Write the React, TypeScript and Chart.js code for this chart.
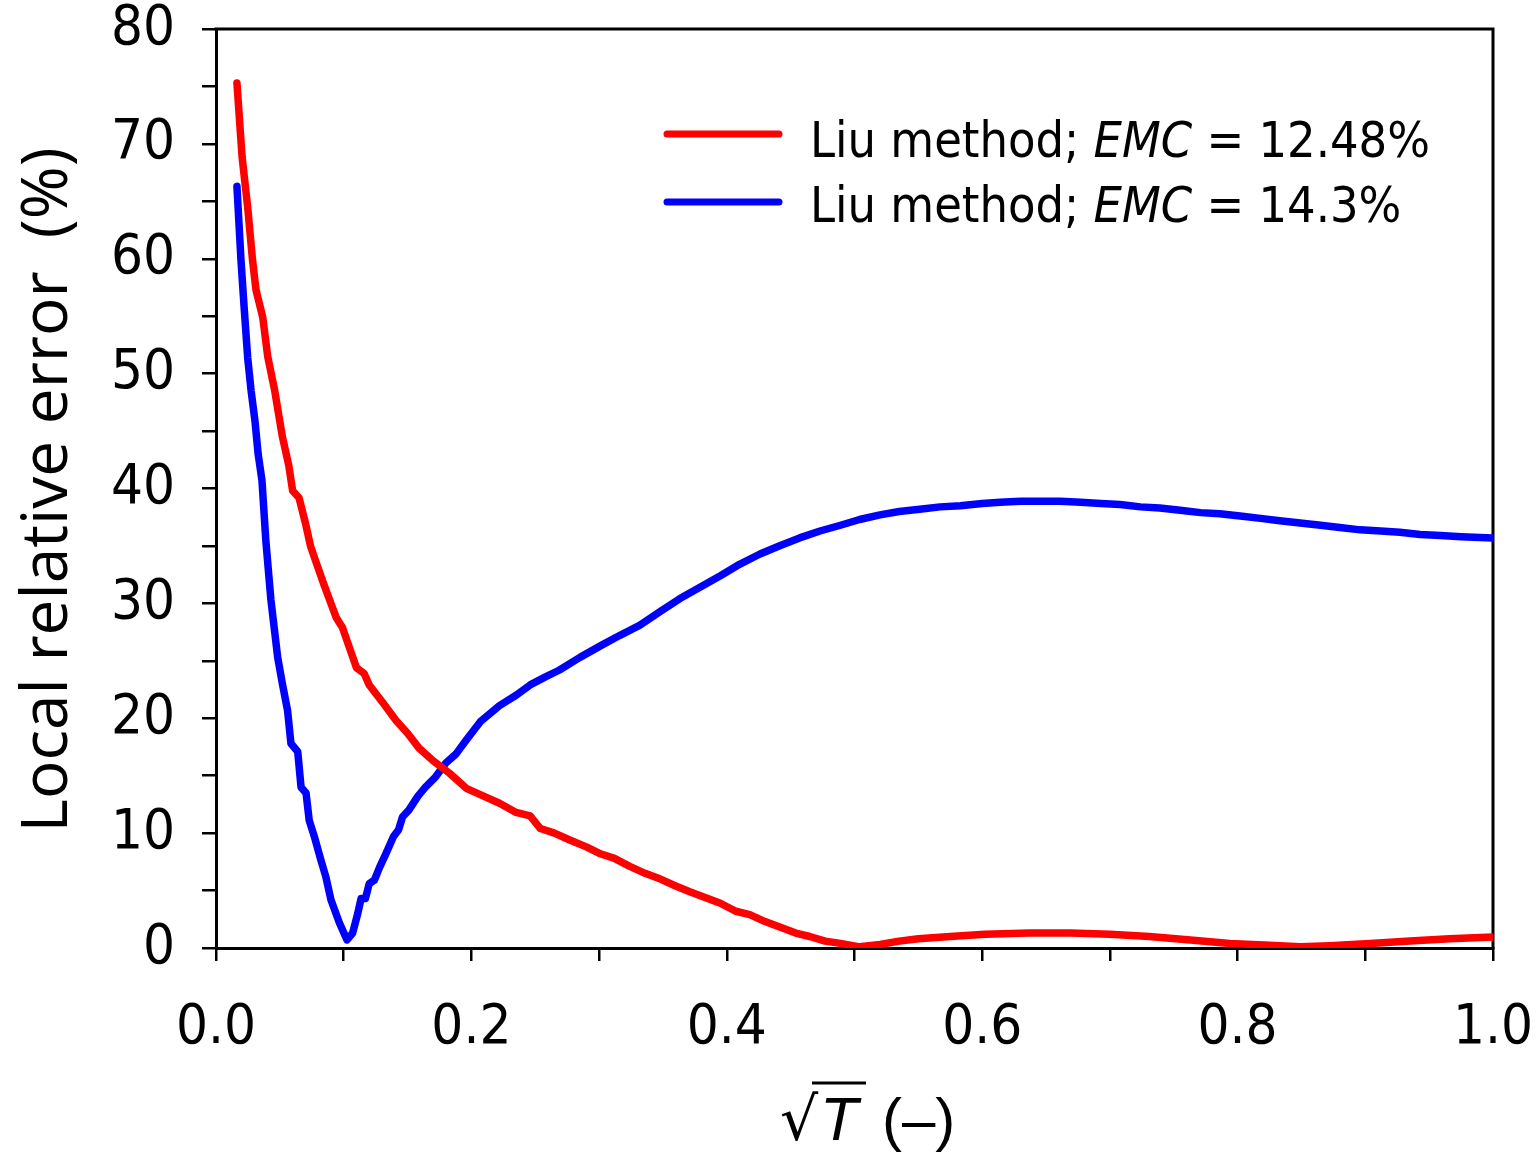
import React, { useEffect, useRef } from "react";
import { Chart, registerables } from "chart.js";

Chart.register(...registerables);

// ---- data ----
const redX = [
  0.0164, 0.0204, 0.0248, 0.0285, 0.0313, 0.0366, 0.0405, 0.046, 0.052, 0.057,
  0.06, 0.065, 0.07, 0.074, 0.078, 0.084, 0.089, 0.094, 0.099, 0.104,
  0.11, 0.116, 0.12, 0.131, 0.141, 0.15, 0.159, 0.17, 0.183, 0.196,
  0.21, 0.222, 0.235, 0.246, 0.254, 0.265, 0.277, 0.29, 0.301, 0.312,
  0.324, 0.336, 0.348, 0.36, 0.371, 0.383, 0.395, 0.407, 0.418, 0.43,
  0.442, 0.454, 0.465, 0.477, 0.489, 0.504, 0.52, 0.535, 0.55, 0.575,
  0.602, 0.637, 0.669, 0.7, 0.731, 0.763, 0.794, 0.825, 0.849, 0.872,
  0.904, 0.935, 0.966, 1.0,
];
const redY = [
  75.3, 68.9, 64.5, 60.0, 57.3, 54.9, 51.5, 48.5, 44.5, 42.0,
  39.8, 39.2, 37.0, 35.0, 33.7, 31.8, 30.3, 28.8, 27.9, 26.3,
  24.4, 23.9, 22.9, 21.3, 19.8, 18.7, 17.4, 16.3, 15.2, 13.9,
  13.2, 12.6, 11.8, 11.5, 10.4, 10.0, 9.4, 8.8, 8.2, 7.8,
  7.1, 6.5, 6.0, 5.4, 4.9, 4.4, 3.9, 3.2, 2.9, 2.3,
  1.8, 1.3, 1.0, 0.6, 0.4, 0.1, 0.3, 0.6, 0.8, 1.0,
  1.2, 1.3, 1.3, 1.2, 1.0, 0.7, 0.4, 0.25, 0.1, 0.2,
  0.4, 0.6, 0.8, 0.95,
];

const blueX = [
  0.0164, 0.0196, 0.0222, 0.0248, 0.0275, 0.0305, 0.033, 0.036, 0.039, 0.043,
  0.0483, 0.052, 0.056, 0.0587, 0.064, 0.0666, 0.0705, 0.073, 0.077, 0.082,
  0.086, 0.09, 0.0966, 0.1026, 0.107, 0.111, 0.1136, 0.117, 0.12, 0.124,
  0.128, 0.133, 0.139, 0.143, 0.146, 0.151, 0.158, 0.164, 0.172, 0.18,
  0.188, 0.196, 0.207, 0.222, 0.235, 0.246, 0.258, 0.269, 0.285, 0.301,
  0.316, 0.332, 0.348, 0.363, 0.379, 0.395, 0.41, 0.426, 0.441, 0.457,
  0.473, 0.489, 0.504, 0.52, 0.535, 0.551, 0.567, 0.583, 0.6, 0.614,
  0.63, 0.645, 0.661, 0.677, 0.693, 0.708, 0.724, 0.739, 0.755, 0.771,
  0.786, 0.802, 0.818, 0.833, 0.849, 0.865, 0.88, 0.896, 0.912, 0.927,
  0.943, 0.959, 0.975, 1.0,
];
const blueY = [
  66.3, 59.8, 55.5, 51.4, 48.5, 45.9, 43.0, 40.7, 35.5, 30.3,
  25.3, 23.0, 20.7, 17.8, 17.1, 14.0, 13.5, 11.1, 9.7, 7.7,
  6.2, 4.2, 2.2, 0.7, 1.3, 3.0, 4.3, 4.3, 5.6, 5.9,
  7.0, 8.2, 9.7, 10.3, 11.4, 12.0, 13.2, 14.0, 14.9, 16.1,
  16.9, 18.1, 19.7, 21.1, 22.0, 22.9, 23.6, 24.2, 25.3, 26.3,
  27.2, 28.1, 29.3, 30.4, 31.4, 32.4, 33.4, 34.3, 35.0, 35.7,
  36.3, 36.8, 37.3, 37.7, 38.0, 38.2, 38.4, 38.5, 38.7, 38.8,
  38.9, 38.9, 38.9, 38.8, 38.7, 38.6, 38.4, 38.3, 38.1, 37.9,
  37.8, 37.6, 37.4, 37.2, 37.0, 36.8, 36.6, 36.4, 36.3, 36.2,
  36.0, 35.9, 35.8, 35.7,
];

const seriesNames = ["Liu method; EMC = 12.48%", "Liu method; EMC = 14.3%"];
const legendPre = ["Liu method; ", "Liu method; "];
const legendItal = ["EMC", "EMC"];
const legendPost = [" = 12.48%", " = 14.3%"];
const seriesColors = ["#ff0000", "#0000ff"];

const xTickLabels = ["0.0", "", "0.2", "", "0.4", "", "0.6", "", "0.8", "", "1.0"];
const yTickLabels = ["0", "", "10", "", "20", "", "30", "", "40", "", "50", "", "60", "", "70", "", "80"];
const yTitle = "Local relative error  (%)";

const TICK_FONT = "'DejaVu Sans Condensed', 'DejaVu Sans', sans-serif";

const overlayPlugin = {
  id: "overlay",
  beforeDatasetsDraw(chart: any) {
    const { ctx, chartArea } = chart;
    ctx.save();
    ctx.strokeStyle = "#000";
    ctx.lineWidth = 3;
    ctx.beginPath();
    ctx.moveTo(chartArea.left - 1.5, chartArea.top);
    ctx.lineTo(chartArea.right, chartArea.top);
    ctx.lineTo(chartArea.right, chartArea.bottom + 1.5);
    ctx.stroke();
    ctx.restore();
  },
  afterDraw(chart: any) {
    const { ctx } = chart;
    ctx.save();
    ctx.fillStyle = "#000";

    // y-axis title
    ctx.save();
    ctx.translate(67, 490);
    ctx.rotate(-Math.PI / 2);
    ctx.font = "64px 'Open Sans', sans-serif";
    ctx.textAlign = "center";
    ctx.textBaseline = "alphabetic";
    ctx.fillText(yTitle, 0, 0);
    ctx.restore();

    // x-axis title: sqrt(T) (–)
    ctx.textBaseline = "alphabetic";
    ctx.textAlign = "left";
    const base = 1140;
    ctx.font = "60px 'DejaVu Sans', sans-serif";
    ctx.fillText("\u221A", 780, base);
    ctx.font = "italic 62px 'Liberation Sans', sans-serif";
    ctx.fillText("T", 820, base);
    ctx.lineWidth = 3;
    ctx.strokeStyle = "#000";
    ctx.beginPath();
    ctx.moveTo(812, 1083);
    ctx.lineTo(866, 1083);
    ctx.stroke();
    ctx.font = "60px 'Liberation Sans', sans-serif";
    ctx.fillText("(\u2013)", 882, base);

    // legend
    const rows = [157, 222];
    const lineY = [134, 202];
    for (let i = 0; i < 2; i++) {
      ctx.strokeStyle = seriesColors[i];
      ctx.lineWidth = 7;
      ctx.lineCap = "round";
      ctx.beginPath();
      ctx.moveTo(667, lineY[i]);
      ctx.lineTo(779, lineY[i]);
      ctx.stroke();
      let x = 810;
      ctx.font = `50px ${TICK_FONT}`;
      ctx.fillText(legendPre[i], x, rows[i]);
      x += ctx.measureText(legendPre[i]).width;
      ctx.font = `italic 50px ${TICK_FONT}`;
      ctx.fillText(legendItal[i], x, rows[i]);
      x += ctx.measureText(legendItal[i]).width;
      ctx.font = `50px ${TICK_FONT}`;
      ctx.fillText(legendPost[i], x, rows[i]);
    }
    ctx.restore();
  },
};

export default function App() {
  const ref = useRef<HTMLCanvasElement>(null);
  useEffect(() => {
    const canvas = ref.current!;
    const chart = new Chart(canvas, {
      type: "line",
      data: {
        datasets: [
          {
            label: seriesNames[0],
            data: redX.map((x, i) => ({ x, y: redY[i] })),
            borderColor: seriesColors[0],
            backgroundColor: seriesColors[0],
            borderWidth: 7.5,
            pointRadius: 0,
            tension: 0,
            borderCapStyle: "round",
            borderJoinStyle: "round",
          },
          {
            label: seriesNames[1],
            data: blueX.map((x, i) => ({ x, y: blueY[i] })),
            borderColor: seriesColors[1],
            backgroundColor: seriesColors[1],
            borderWidth: 7.5,
            pointRadius: 0,
            tension: 0,
            borderCapStyle: "round",
            borderJoinStyle: "round",
          },
        ],
      },
      options: {
        responsive: false,
        animation: false,
        devicePixelRatio: 1,
        layout: { padding: { top: 29, right: 46, left: 0, bottom: 0 } },
        plugins: { legend: { display: false }, tooltip: { enabled: false } },
        scales: {
          x: {
            type: "linear",
            min: 0,
            max: 1,
            afterFit: (s: any) => {
              s.height = 206;
              s.paddingLeft = 0;
              s.paddingRight = 0;
            },
            ticks: {
              stepSize: 0.1,
              autoSkip: false,
              maxRotation: 0,
              padding: 39,
              color: "#000",
              font: { family: TICK_FONT, size: 56, lineHeight: 1 },
              callback: (_v: any, i: number) => xTickLabels[i],
            },
            grid: { display: true, drawOnChartArea: false, drawTicks: true, tickLength: 13, color: "#000", lineWidth: 2.5 },
            border: { display: true, color: "#000", width: 3 },
          },
          y: {
            type: "linear",
            min: 0,
            max: 80,
            afterFit: (s: any) => {
              s.width = 216;
              s.paddingTop = 0;
              s.paddingBottom = 0;
            },
            ticks: {
              stepSize: 5,
              autoSkip: false,
              padding: 27,
              color: "#000",
              font: { family: TICK_FONT, size: 56, lineHeight: 1 },
              callback: (_v: any, i: number) => yTickLabels[i],
            },
            grid: { display: true, drawOnChartArea: false, drawTicks: true, tickLength: 14, color: "#000", lineWidth: 2.5 },
            border: { display: true, color: "#000", width: 3 },
          },
        },
      },
      plugins: [overlayPlugin],
    } as any);
    return () => chart.destroy();
  }, []);
  return (
    <canvas
      ref={ref}
      width={1539}
      height={1154}
      style={{ position: "absolute", left: 0, top: 0, width: 1539, height: 1154, display: "block", background: "#fff" }}
    />
  );
}
